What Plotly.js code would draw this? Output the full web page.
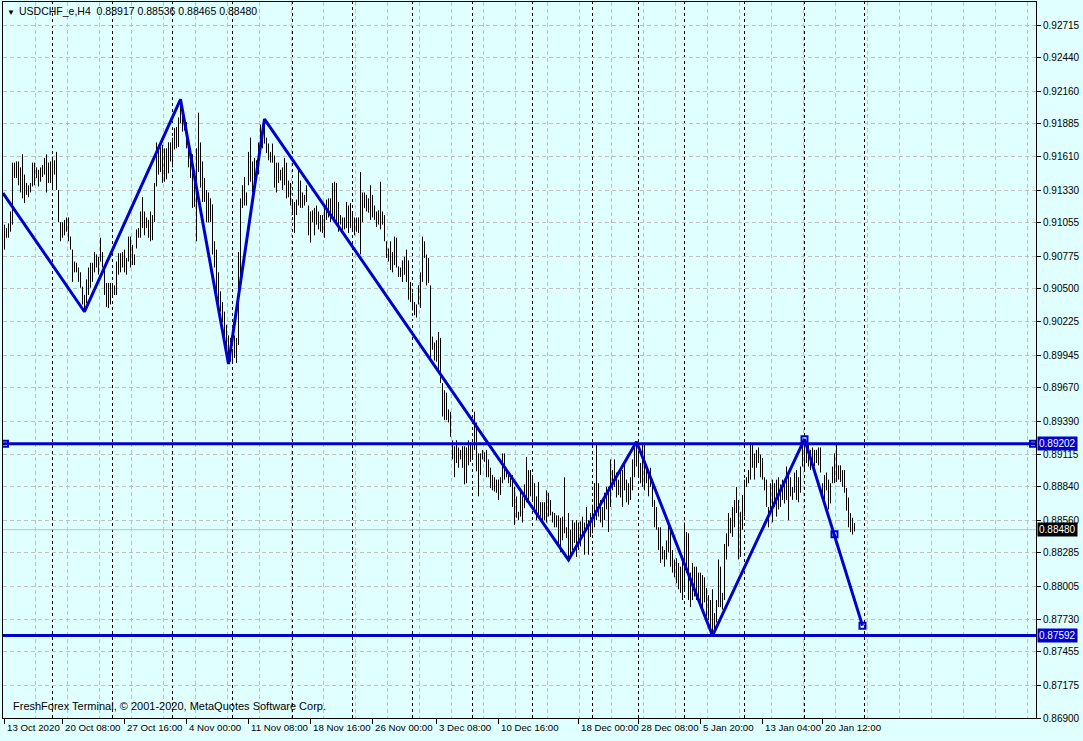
<!DOCTYPE html>
<html><head><meta charset="utf-8">
<script src="https://cdn.plot.ly/plotly-3.0.1.min.js"></script>
<style>html,body{margin:0;padding:0;background:#e0ffff;}#chart{width:1083px;height:741px;}</style>
</head><body><div id="chart"></div>
<script>
// ---------- data ----------
const symbolName = 'USDCHF_e,H4';
const lastOHLC = ['0.88917', '0.88536', '0.88465', '0.88480'];
const copyrightText = 'FreshForex Terminal, \u00a9 2001-2020, MetaQuotes Software Corp.';

// H4 bar highs (index = bar number)
const highs = [
.9104,.9101,.9105,.9115,.9156,.9156,.9157,.9157,.9152,.9163,
.9146,.9139,.9137,.9139,.9156,.9156,.9152,.9150,.9152,.9154,
.9160,.9163,.9156,.9157,.9161,.9158,.9165,.9133,.9106,.9106,
.9108,.9110,.9110,.9094,.9083,.9073,.9072,.9068,.9064,.9052,
.9045,.9058,.9068,.9072,.9072,.9081,.9079,.9077,.9093,.9081,
.9068,.9055,.9055,.9055,.9055,.9053,.9073,.9080,.9080,.9081,
.9083,.9076,.9094,.9094,.9087,.9079,.9100,.9101,.9115,.9127,
.9115,.9110,.9108,.9115,.9112,.9139,.9173,.9171,.9169,.9171,
.9168,.9168,.9173,.9173,.9177,.9185,.9186,.9194,.92091,.9204,
.9194,.9190,.9173,.9168,.9163,.9142,.9168,.9198,.9173,.9157,
.9143,.9133,.9131,.9126,.9121,.9090,.9083,.9064,.9048,.9039,
.9031,.9020,.9011,.9009,.8997,.9011,.9009,.9081,.9126,.9137,
.9144,.9131,.9165,.9177,.9157,.9160,.9158,.9173,.9188,.9188,
.91926,.9177,.9172,.9165,.9172,.9162,.9156,.9156,.9150,.9152,
.9160,.9156,.9141,.9139,.9123,.9123,.9125,.9150,.9141,.9131,
.9129,.9137,.9120,.9115,.9116,.9118,.9120,.9115,.9112,.9112,
.9119,.9125,.9126,.9126,.9139,.9140,.9139,.9123,.9112,.9110,
.9110,.9123,.9120,.9122,.9114,.9110,.9110,.9110,.9148,.9131,
.9131,.9129,.9126,.9137,.9129,.9120,.9115,.9116,.9140,.9115,
.9112,.9090,.9084,.9090,.9081,.9094,.9093,.9069,.9068,.9074,
.9077,.9083,.9074,.9056,.9047,.9039,.9037,.9053,.9064,.9094,
.9090,.9079,.9076,.9053,.9010,.9005,.9007,.9014,.9009,.8971,
.8965,.8963,.8949,.8947,.8923,.8918,.8923,.8917,.8915,.8918,
.8918,.8917,.8923,.8921,.8918,.8947,.8938,.8912,.8912,.8915,
.8913,.8915,.8907,.8900,.8894,.8892,.8890,.8890,.8892,.8912,
.8912,.8900,.8894,.8892,.8894,.8884,.8876,.8863,.8883,.8876,
.8886,.8909,.8898,.8898,.8892,.8887,.8876,.8888,.8871,.8871,
.8871,.8881,.8879,.8873,.8863,.8862,.8860,.8860,.8858,.8859,
.8892,.8850,.8862,.8848,.8856,.8854,.8856,.8854,.8855,.8859,
.8854,.8867,.8856,.8862,.8869,.8887,.8919,.8887,.8873,.8867,
.8879,.8884,.8884,.8907,.8898,.8907,.8896,.8890,.8898,.8898,
.8904,.8890,.8887,.8892,.8907,.8921,.89218,.8912,.8904,.8919,
.8921,.8901,.8896,.8900,.8890,.8873,.8867,.8850,.8850,.8834,
.8831,.8839,.8854,.8848,.8831,.8823,.8824,.8820,.8817,.8825,
.8854,.8846,.8845,.8812,.8820,.8817,.8817,.8812,.8812,.8810,
.8808,.8799,.8793,.8789,.8798,.8778,.8789,.8823,.8817,.8795,
.8836,.8845,.8862,.8858,.8867,.8873,.8884,.8873,.8863,.8877,
.8890,.8892,.8898,.8921,.8919,.8912,.8915,.8917,.8911,.8908,
.8892,.8890,.8867,.8887,.8890,.8887,.8890,.8892,.8886,.8890,
.8887,.8901,.8896,.8892,.8884,.8896,.8898,.8892,.8901,.8921,
.89240,.8917,.8919,.8915,.8917,.8915,.8915,.8917,.8917,.8887,
.8894,.8896,.8890,.8887,.8901,.8912,.8921,.8902,.8902,.8898,
.8898,.8883,.8875,.8862,.8858,.88536
];

// H4 bar lows
const lows = [
.9083,.9093,.9093,.9098,.9104,.9143,.9143,.9137,.9131,.9126,
.9122,.9129,.9127,.9131,.9136,.9137,.9143,.9136,.9140,.9144,
.9146,.9131,.9139,.9139,.9135,.9146,.9133,.9106,.9090,.9093,
.9095,.9098,.9090,.9083,.9056,.9064,.9064,.9056,.9051,.9037,
.90309,.9038,.9045,.9051,.9056,.9064,.9068,.9062,.9073,.9068,
.9045,.9035,.9034,.9037,.9045,.9045,.9045,.9062,.9064,.9068,
.9064,.9062,.9073,.9068,.9070,.9070,.9084,.9093,.9093,.9101,
.9095,.9101,.9093,.9090,.9091,.9106,.9136,.9146,.9148,.9139,
.9140,.9142,.9147,.9157,.9152,.9167,.9168,.9169,.9189,.9182,
.9183,.9168,.9152,.9143,.9118,.9119,.9090,.9148,.9135,.9123,
.9123,.9106,.9106,.9106,.9079,.9068,.9047,.9037,.9031,.9022,
.9009,.8992,.89870,.8989,.8988,.8992,.8988,.9003,.9056,.9118,
.9120,.9120,.9137,.9140,.9131,.9140,.9142,.9146,.9165,.9168,
.9172,.9164,.9158,.9156,.9156,.9135,.9131,.9139,.9141,.9133,
.9137,.9126,.9127,.9120,.9112,.9097,.9112,.9120,.9118,.9118,
.9120,.9123,.9095,.9089,.9106,.9095,.9104,.9100,.9098,.9097,
.9093,.9108,.9110,.9106,.9110,.9108,.9105,.9098,.9104,.9097,
.9100,.9101,.9097,.9101,.9098,.9095,.9098,.9097,.9079,.9106,
.9118,.9115,.9114,.9108,.9110,.9108,.9102,.9104,.9100,.9104,
.9090,.9076,.9073,.9066,.9064,.9070,.9068,.9060,.9060,.9056,
.9062,.9056,.9041,.9039,.9032,.9028,.9026,.9037,.9034,.9056,
.9076,.9053,.9055,.8990,.8999,.8990,.8989,.8980,.8971,.8943,
.8940,.8940,.8938,.8926,.8907,.8892,.8904,.8900,.8907,.8900,
.8886,.8887,.8902,.8905,.8907,.8915,.8897,.8876,.8894,.8907,
.8905,.8892,.8892,.8883,.8881,.8880,.8879,.8873,.8877,.8887,
.8890,.8892,.8887,.8884,.8867,.8852,.8858,.8856,.8859,.8854,
.8866,.8871,.8871,.8876,.8873,.8862,.8856,.8860,.8859,.8855,
.8856,.8854,.8859,.8860,.8854,.8850,.8850,.8834,.8829,.8839,
.8845,.8841,.88226,.8827,.8831,.8837,.8825,.8831,.8834,.8842,
.8827,.8850,.8827,.8842,.8845,.8850,.8856,.8859,.8854,.8850,
.8856,.8865,.8846,.8867,.8881,.8884,.8875,.8877,.8875,.8867,
.8881,.8871,.8869,.8873,.8881,.8892,.8901,.8892,.8887,.8884,
.8881,.8887,.8876,.8884,.8867,.8850,.8848,.8831,.8820,.8823,
.8817,.8823,.8829,.8817,.8812,.8808,.8803,.8798,.8795,.8789,
.8798,.8812,.8789,.8783,.8789,.8792,.8789,.8787,.8783,.8778,
.8787,.8775,.8772,.8761,.87592,.8764,.8770,.8783,.8783,.8781,
.8789,.8823,.8834,.8845,.8842,.8850,.8862,.8823,.8825,.8848,
.8859,.8884,.8887,.8890,.8900,.8890,.8900,.8904,.8892,.8890,
.8881,.8867,.8850,.8864,.8854,.8867,.8859,.8865,.8867,.8873,
.8870,.8873,.8856,.8876,.8873,.8879,.8873,.8871,.8879,.8901,
.8898,.8904,.8901,.8898,.8904,.8901,.8904,.8902,.8896,.8875,
.8873,.8881,.8865,.8870,.8887,.8887,.8888,.8890,.8888,.8884,
.8879,.8864,.8850,.8846,.8844,.88465
];

// ZigZag vertices (bar index, price) and projected leg
const zigzagBars   = [-0.75, 40, 88, 112, 130, 282, 316, 354, 400];
const zigzagPrices = [0.91305, 0.90309, 0.92091, 0.89870, 0.91926, 0.88226, 0.89218, 0.87592, 0.89240];
const projBars   = [400, 415, 429];
const projPrices = [0.89240, 0.88441, 0.87675];

// horizontal levels and current bid
const levelPrices = [0.89202, 0.87592];
const bidPrice = 0.88480;

// axis ticks
const priceTicks = [0.92715,0.92440,0.92160,0.91885,0.91610,0.91330,0.91055,0.90775,0.90500,0.90225,
  0.89945,0.89670,0.89390,0.89115,0.88840,0.88560,0.88285,0.88005,0.87730,0.87455,0.87175,0.86900];
const timeTickBars = [0, 29, 60, 91, 122, 153, 184, 216, 247, 287, 317, 348, 379, 409];
const timeTickLabels = ['13 Oct 2020','20 Oct 08:00','27 Oct 16:00','4 Nov 00:00','11 Nov 08:00',
  '18 Nov 16:00','26 Nov 00:00','3 Dec 08:00','10 Dec 16:00','18 Dec 00:00','28 Dec 08:00',
  '5 Jan 20:00','13 Jan 04:00','20 Jan 12:00'];
// weekly period separators (bar index of week start)
const weekStartBars = [24, 54, 84, 114, 144, 174, 204, 234, 264, 294, 317, 340, 370, 400, 430];

// ---------- drawing ----------
const BG = '#e0ffff';
const BLUE = '#0000cd';
const xRange = [-0.75, 515.75];
const yRange = [0.86900, 0.92908];

const bx = [], by = [];
for (let i = 0; i < highs.length; i++) {
  bx.push(i, i, null);
  by.push(lows[i], highs[i], null);
}

const traces = [
  {type:'scatter', mode:'lines', x:bx, y:by, line:{color:'#000', width:1}, hoverinfo:'skip'},
  {type:'scatter', mode:'lines', x:zigzagBars.concat(projBars.slice(1)), y:zigzagPrices.concat(projPrices.slice(1)),
   line:{color:BLUE, width:3}, hoverinfo:'skip'},
  {type:'scatter', mode:'markers', x:projBars, y:projPrices,
   marker:{symbol:'square-open', size:6, color:BLUE, line:{width:2, color:BLUE}}, hoverinfo:'skip'},
  {type:'scatter', mode:'markers', x:[xRange[0] + 1, xRange[1] - 1.5], y:[levelPrices[0], levelPrices[0]],
   marker:{symbol:'square-open', size:6, color:BLUE, line:{width:2, color:BLUE}}, hoverinfo:'skip'},
  {type:'scatter', mode:'markers', x:timeTickBars, y:timeTickBars.map(() => null), xaxis:'x2', hoverinfo:'skip',
   marker:{opacity:0}}
];

const shapes = [];
weekStartBars.forEach(b => shapes.push({type:'line', xref:'x', yref:'paper', x0:b, x1:b, y0:0, y1:1,
  line:{color:'#000', width:1, dash:'3px,3px'}, layer:'below'}));
shapes.push({type:'line', xref:'paper', yref:'y', x0:0, x1:1, y0:bidPrice, y1:bidPrice,
  line:{color:'#c0c0c0', width:1}, layer:'below'});
levelPrices.forEach(p => shapes.push({type:'line', xref:'paper', yref:'y', x0:0, x1:1, y0:p, y1:p,
  line:{color:BLUE, width:3}, layer:'above'}));

const FONT = 'Liberation Sans, Arial, sans-serif';
const annotations = [
  {xref:'paper', yref:'paper', x:0, y:1, xanchor:'left', yanchor:'top', xshift:2, yshift:-4,
   text:'\u25BC', showarrow:false, font:{family:FONT, size:8, color:'#000'}},
  {xref:'paper', yref:'paper', x:0, y:1, xanchor:'left', yanchor:'top', xshift:14, yshift:-1,
   text:symbolName + '\u00a0\u00a0' + lastOHLC.join(' '), showarrow:false, font:{family:FONT, size:10.5, color:'#000'}},
  {xref:'paper', yref:'paper', x:0, y:0, xanchor:'left', yanchor:'bottom', xshift:8, yshift:4,
   text:copyrightText, showarrow:false, font:{family:FONT, size:11, color:'#000'}}
];
levelPrices.forEach(p => annotations.push({xref:'paper', yref:'y', x:1, y:p, xanchor:'left', yanchor:'middle',
  xshift:1, text:p.toFixed(5), showarrow:false, bgcolor:BLUE, borderpad:1,
  font:{family:FONT, size:10, color:'#fff'}}));
annotations.push({xref:'paper', yref:'y', x:1, y:bidPrice, xanchor:'left', yanchor:'middle',
  xshift:1, text:bidPrice.toFixed(5), showarrow:false, bgcolor:'#000', borderpad:1,
  font:{family:FONT, size:10, color:'#fff'}});

const layout = {
  width:1083, height:741,
  margin:{l:3, r:47, t:2, b:23, pad:0},
  paper_bgcolor:BG, plot_bgcolor:BG,
  showlegend:false, hovermode:false,
  font:{family:FONT, size:10, color:'#000'},
  xaxis:{range:xRange, showgrid:true, gridcolor:'#c0c0c0', gridwidth:1, griddash:'4px,3px',
    tick0:15.25, dtick:16, showticklabels:false, ticks:'', zeroline:false,
    showline:true, mirror:true, linecolor:'#000', linewidth:1},
  xaxis2:{overlaying:'x', anchor:'y', side:'bottom', range:xRange, tickmode:'array', tickvals:timeTickBars,
    ticktext:timeTickLabels, ticks:'outside', ticklen:5, tickcolor:'#000', showgrid:false, zeroline:false,
    showline:false, tickangle:0, automargin:false, ticklabelposition:'outside right', ticklabelshift:2,
    tickfont:{family:FONT, size:9.7, color:'#000'}},
  yaxis:{range:yRange, side:'right', tickmode:'array', tickvals:priceTicks, tickformat:'.5f',
    ticks:'outside', ticklen:4, tickcolor:'#000', showgrid:true, gridcolor:'#c0c0c0', griddash:'4px,3px',
    zeroline:false, showline:true, mirror:true, linecolor:'#000', linewidth:1,
    tickfont:{family:FONT, size:10, color:'#000'}},
  shapes:shapes,
  annotations:annotations
};

Plotly.newPlot('chart', traces, layout, {staticPlot:true, displayModeBar:false});
</script>
</body></html>
